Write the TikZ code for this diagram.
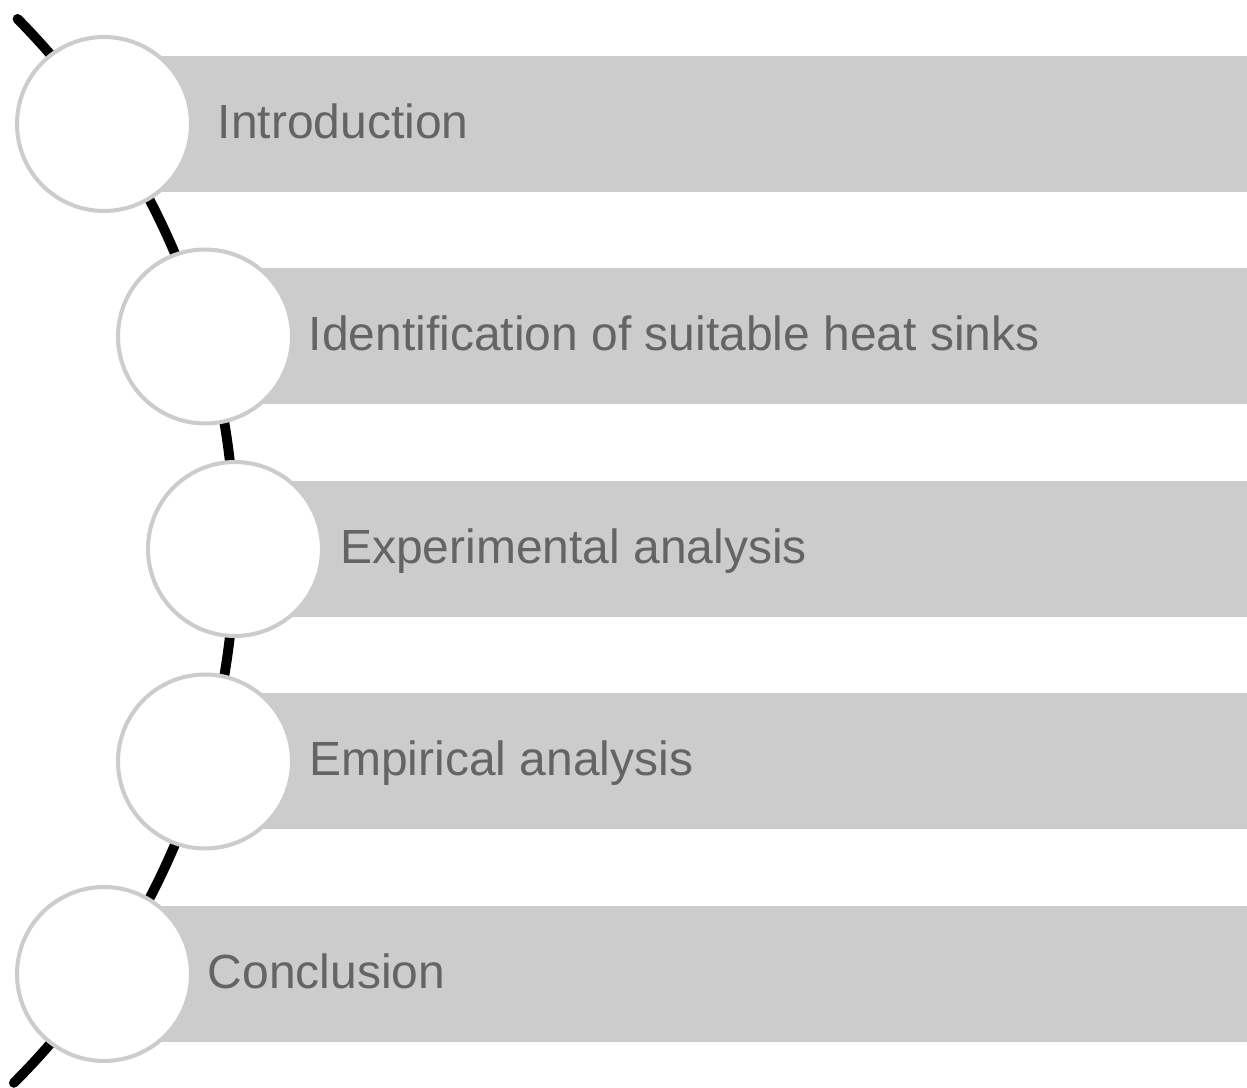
\documentclass[tikz,border=0pt]{standalone}
\usepackage{fontspec}
\setmainfont{Liberation Sans}
\definecolor{bargray}{HTML}{CCCCCC}
\definecolor{textgray}{HTML}{646464}
\tikzset{
  bar/.style={fill=bargray, draw=none},
  dot/.style={circle, draw=bargray, fill=white, line width=2.3pt, minimum size=3.48cm, inner sep=0pt},
  label/.style={anchor=base west, inner sep=0pt, text=textgray, font=\fontsize{27.3pt}{32pt}\selectfont}
}
\begin{document}
\begin{tikzpicture}[x=0.02cm, y=0.02cm]
    \useasboundingbox (0,0) rectangle (1247,1088);

    % bars
    \fill [bar] (104,896) rectangle (1247,1032);
    \fill [bar] (205,683.5) rectangle (1247,819.5);
    \fill [bar] (235,471) rectangle (1247,607);
    \fill [bar] (205,258.5) rectangle (1247,394.5);
    \fill [bar] (104,46) rectangle (1247,182);

    % curved line behind the circles
    \draw [line width=5.6pt, line cap=round] (-520,539) ++(44.6:755) arc [start angle=44.6, end angle=-45, radius=755];

    % introduction
    \node [dot, name=c1] at (104,964) {};
    \node [label, name=t1] at (217.5,949.5) {Introduction};

    % identification
    \node [dot, name=c2] at (205,751.5) {};
    \node [label, name=t2] at (308.5,737) {Identification of suitable heat sinks};

    % experimental analysis
    \node [dot, name=c3] at (235,539) {};
    \node [label, name=t3] at (340,524.5) {Experimental analysis};

    % empirical analysis
    \node [dot, name=c4] at (205,326.5) {};
    \node [label, name=t4] at (309,312) {Empirical analysis};

    % conclusion
    \node [dot, name=c5] at (104,114) {};
    \node [label, name=t5] at (207.5,99.5) {Conclusion};
  \end{tikzpicture}
\end{document}
